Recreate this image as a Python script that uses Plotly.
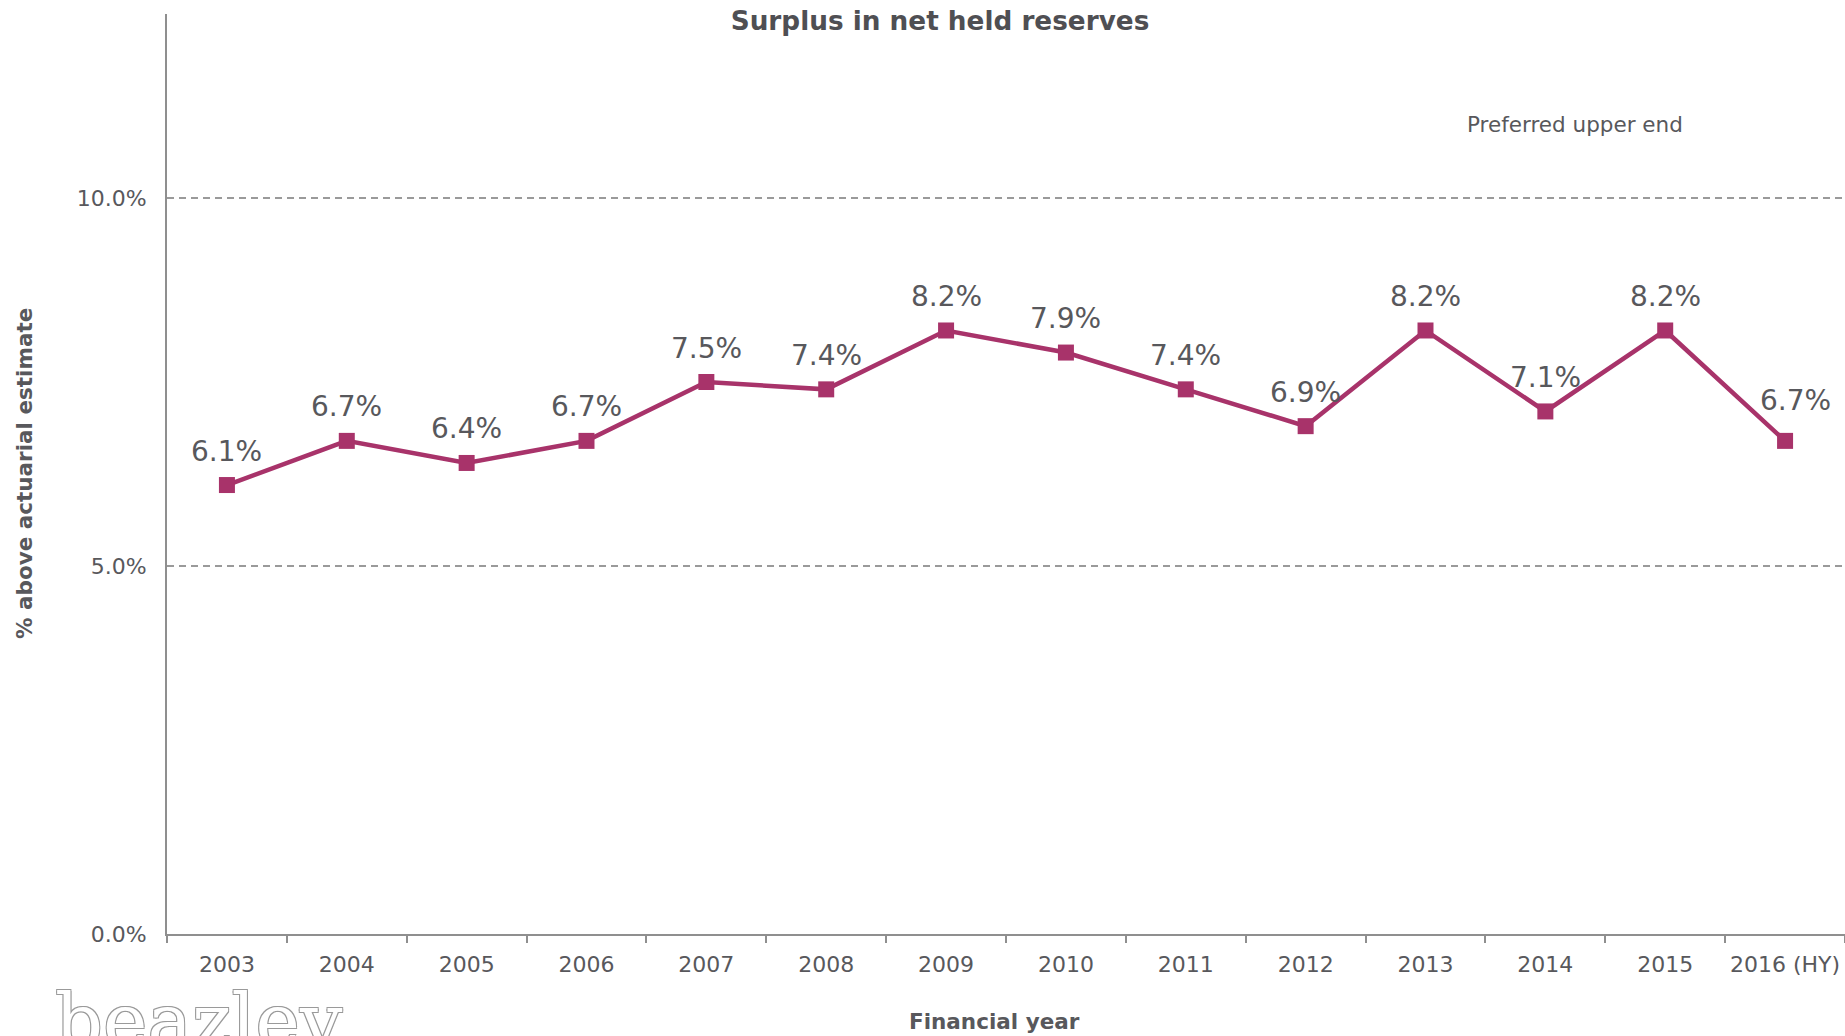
import plotly.graph_objects as go

years = ["2003", "2004", "2005", "2006", "2007", "2008", "2009",
         "2010", "2011", "2012", "2013", "2014", "2015", "2016 (HY)"]
surplus = [6.1, 6.7, 6.4, 6.7, 7.5, 7.4, 8.2, 7.9, 7.4, 6.9, 8.2, 7.1, 8.2, 6.7]
y_ticks = [0, 5, 10]
y_tick_text = ["0.0%", "5.0%", "10.0%"]

LINE = "#A8336A"
TXT = "#58585c"
AX = "#8f8f8f"
FONT = "DejaVu Sans, Verdana, sans-serif"

fig = go.Figure()
fig.add_trace(go.Scatter(
    x=years, y=surplus, mode="lines+markers",
    line=dict(color=LINE, width=4.5),
    marker=dict(symbol="square", size=16, color=LINE),
    hoverinfo="skip", showlegend=False,
))

annotations = []
last = len(surplus) - 1
for i, v in enumerate(surplus):
    annotations.append(dict(
        x=i, y=v, xref="x", yref="y", text=f"{v:.1f}%", showarrow=False,
        yanchor="middle", xanchor="center",
        yshift=40 if i == last else 34, xshift=10 if i == last else 0,
        font=dict(family=FONT, size=28, color=TXT),
    ))

annotations += [
    dict(text="Preferred upper end", x=11.25, y=11.0, xref="x", yref="y",
         showarrow=False, font=dict(family=FONT, size=21.5, color=TXT)),
    dict(text="<b>Financial year</b>", x=(994 - 167) / 1678, y=(934 - 1022) / 920,
         xref="paper", yref="paper", showarrow=False,
         xanchor="center", yanchor="middle",
         font=dict(family=FONT, size=21.5, color=TXT)),
    dict(text="<b>% above actuarial estimate</b>", x=0, y=0.5,
         xref="paper", yref="paper", xshift=-143, textangle=-90,
         showarrow=False, xanchor="center", yanchor="middle",
         font=dict(family=FONT, size=21.5, color=TXT)),
    dict(text="beazley", x=0, y=0, xref="paper", yref="paper",
         xshift=-114, yshift=-41, xanchor="left", yanchor="top",
         showarrow=False,
         font=dict(family="DejaVu Serif, serif", size=75, color="white",
                   shadow="1px 1px 0 #9a9a9a, -1px -1px 0 #9a9a9a, 1px -1px 0 #9a9a9a, -1px 1px 0 #9a9a9a")),
]

fig.update_layout(
    width=1845, height=1036,
    margin=dict(l=167, r=0, t=14, b=102),
    paper_bgcolor="white", plot_bgcolor="white",
    title=dict(text="<b>Surplus in net held reserves</b>", x=940 / 1845,
               xanchor="center", y=1 - 21 / 1036, yanchor="middle",
               xref="container", yref="container",
               font=dict(family=FONT, size=26.3, color="#4f4f53")),
    annotations=annotations,
    font=dict(family=FONT, color=TXT),
)

fig.update_xaxes(
    type="category", range=[-0.5, 13.5], showgrid=False, zeroline=False,
    showline=True, linecolor=AX, linewidth=2,
    ticks="outside", tickson="boundaries", ticklen=7, tickcolor=AX, tickwidth=1.5,
    ticklabelstandoff=10,
    tickfont=dict(family=FONT, size=22, color=TXT),
)
fig.update_yaxes(
    range=[0, 12.5], tickvals=y_ticks, ticktext=y_tick_text,
    showgrid=True, gridcolor="#9a9a9a", gridwidth=1.5, griddash="7px,5px",
    zeroline=False, showline=True, linecolor=AX, linewidth=2,
    ticks="", ticklabelstandoff=14,
    tickfont=dict(family=FONT, size=22, color=TXT),
)

fig.write_html("out.html")
